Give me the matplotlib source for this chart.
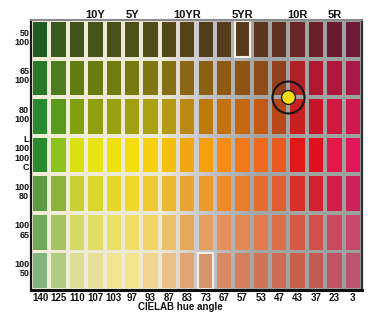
import matplotlib
matplotlib.use("Agg")
import matplotlib.pyplot as plt
from matplotlib.colors import LinearSegmentedColormap
from matplotlib.patches import Rectangle
import numpy as np

hue_angles = ["140", "125", "110", "107", "103", "97", "93", "87", "83", "73",
              "67", "57", "53", "47", "43", "37", "23", "3"]
row_labels = ["50\n100", "65\n100", "80\n100", "L\n100\n100\nC", "100\n80", "100\n65", "100\n50"]
munsell_names = ["10Y", "5Y", "10YR", "5YR", "10R", "5R"]
munsell_cols = [3, 5, 8, 11, 14, 16]

row0 = ['#215a22', '#385a1c', '#41521a', '#455218', '#485218', '#4b5016', '#4e4c18', '#524818', '#564418',
        '#4f3e1a', '#553c1a', '#573a1c', '#5a3520', '#5e3024', '#682626', '#6a1f2a', '#6a1a30', '#6c1c38']
row1 = ['#2a782a', '#4c7c1e', '#627c12', '#6a7c10', '#707c10', '#787a10', '#807612', '#866e14', '#8a6616',
        '#8a6012', '#8d5a14', '#8f5416', '#8f4c18', '#94401c', '#b02228', '#b01830', '#b0153c', '#aa1848']
row2 = ['#2a8a30', '#5a9a1a', '#80a010', '#8ea010', '#98a010', '#a0a012', '#aaa014', '#b49a14', '#bc8a14',
        '#c07a0a', '#c47210', '#c46812', '#c45a14', '#b84818', '#c82020', '#c81428', '#d01840', '#d01850']
row3 = ['#2a8a2e', '#8cc41c', '#d8e010', '#e6e414', '#f0e010', '#f4de10', '#f4d010', '#f4c010', '#f0a810',
        '#f4a00a', '#f68c14', '#f27818', '#f06a1e', '#e85a20', '#e01818', '#e01020', '#e41848', '#e0185a']
row4 = ['#5c9c44', '#8cb43a', '#c8d034', '#dad82e', '#e6d828', '#f0d82a', '#f0c830', '#ecb832', '#e8a434',
        '#ec9a2a', '#ee8a2a', '#e87c2a', '#e46c2e', '#e05e30', '#d83028', '#d42030', '#d41c48', '#cc2058']
row5 = ['#70aa5a', '#a4c464', '#d4da64', '#e0de64', '#eae064', '#f0e068', '#f0d468', '#ecc068', '#e4a858',
        '#e4a060', '#e4905c', '#e48858', '#e07a50', '#dc6e48', '#d45a44', '#d05048', '#cc4860', '#c84870']
row6 = ['#84b47e', '#b0cc80', '#dcde94', '#e8e09a', '#f0e490', '#f4e48c', '#f0d490', '#e8c088', '#e0a470',
        '#d8946c', '#d88a64', '#d4805c', '#d07458', '#cc6c54', '#c8604e', '#c45a54', '#c05464', '#bc5470']
cell_colors = [row0, row1, row2, row3, row4, row5, row6]

highlight_cells = [(0, 11), (6, 9)]  # (row, col)
marker_pos = (13.45, 1.5)

fam = ['Liberation Sans Narrow', 'Liberation Sans', 'DejaVu Sans']

fig = plt.figure(figsize=(3.68, 3.12), dpi=100)
fig.patch.set_facecolor('white')
ax = fig.add_axes([31 / 368, 22 / 312, 331 / 368, 270 / 312])

ncol = len(hue_angles)
nrow = len(cell_colors)

# gap background (light on left, grey on right)
bg_cmap = LinearSegmentedColormap.from_list(
    'bg', [(0.0, '#f2eed8'), (0.40, '#ece8d6'), (0.52, '#c8c6cc'), (0.68, '#a4a6a6'), (1.0, '#9ca29e')])
grad = np.linspace(0, 1, 256).reshape(1, -1)
ax.imshow(grad, cmap=bg_cmap, extent=(-0.5, ncol - 0.5, nrow - 0.5, -0.5), aspect='auto', zorder=0)

cols = np.arange(ncol)
for r, colors in enumerate(cell_colors):
    ax.bar(cols, 0.9, bottom=r - 0.45, width=0.78, color=colors, edgecolor='none', zorder=1)

for r, c in highlight_cells:
    ax.add_patch(Rectangle((c - 0.41, r - 0.47), 0.82, 0.94, fill=False,
                           edgecolor='#f4f0e4', lw=1.5, zorder=2))

ax.plot([marker_pos[0]], [marker_pos[1]], 'o', ms=23, mfc='none', mec='#151515', mew=1.5, zorder=3)
ax.plot([marker_pos[0]], [marker_pos[1]], 'o', ms=10, mfc='#f6dc12', mec='#202020', mew=1.0, zorder=4)

ax.set_xlim(-0.5, ncol - 0.5)
ax.set_ylim(nrow - 0.5, -0.5)
ax.set_xticks([])
ax.set_yticks([])

for side, lw, colr in [('left', 1.6, '#151515'), ('bottom', 2.2, '#101010'),
                       ('right', 1.6, '#303030'), ('top', 1.5, '#8a8a8a')]:
    ax.spines[side].set_linewidth(lw)
    ax.spines[side].set_color(colr)

# bottom hue-angle labels
for i, lab in enumerate(hue_angles):
    ax.text(i, nrow - 0.5 + 0.2, lab, ha='center', va='center', fontsize=7,
            fontweight='bold', family=fam, color='#111111')
ax.text(7.6, nrow - 0.5 + 0.43, 'CIELAB hue angle', ha='center', va='center', fontsize=7,
        fontweight='bold', family=fam, color='#111111')

# top Munsell hue labels
for name, c in zip(munsell_names, munsell_cols):
    ax.text(c, -0.5 - 0.13, name, ha='center', va='center', fontsize=8,
            fontweight='bold', family=fam, color='#111111')

# left L / C labels
for r, lab in enumerate(row_labels):
    ax.text(-0.6, r - 0.04, lab, ha='right', va='center', fontsize=6.5,
            fontweight='bold', family=fam, color='#111111', linespacing=1.05)

fig.savefig('out.png', dpi=100, facecolor='white')
